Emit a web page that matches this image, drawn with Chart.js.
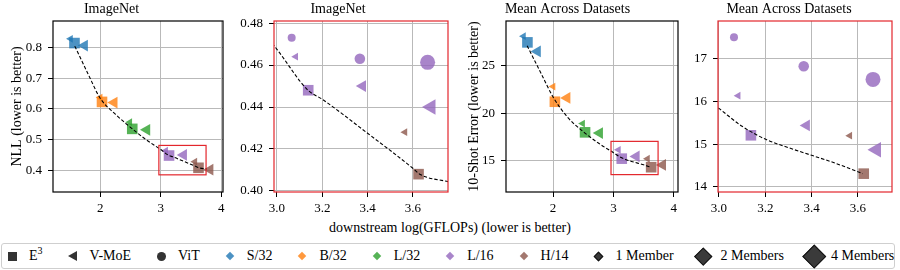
<!DOCTYPE html>
<html>
<head>
<meta charset="utf-8">
<script src="https://cdn.jsdelivr.net/npm/chart.js@4/dist/chart.umd.min.js"></script>
<style>
  body { margin: 0; background: #fff; font-family: 'Liberation Serif', 'Times New Roman', serif; }
  #wrap { position: relative; width: 900px; height: 270px; overflow: hidden; }
  #wrap canvas { position: absolute; top: 0; }
  #xlabel { position: absolute; left: 0; width: 900px; top: 220px; text-align: center; font-size: 14px; line-height: 16px; }
  #legend { position: absolute; left: 1px; top: 243px; width: 892px; height: 24px; border: 1px solid #cfcfcf; border-radius: 3px;
            display: flex; align-items: center; font-size: 14px; font-family: 'Liberation Serif', 'Times New Roman', serif; }
  .item { display: flex; align-items: center; margin-right: 20px; white-space: nowrap; }
  .item:last-child { margin-right: 0; }
  .handle { width: 20px; height: 22px; display: flex; align-items: center; justify-content: center; margin-right: 7px; }
  .sq { width: 9px; height: 9px; background: #333; }
  .tri { width: 0; height: 0; border-top: 5px solid transparent; border-bottom: 5px solid transparent; border-right: 9px solid #333; }
  .dot { width: 9px; height: 9px; border-radius: 50%; background: #333; }
  .dia { transform: rotate(45deg); }
  sup { font-size: 10px; line-height: 0; }
</style>
</head>
<body>
<div id="wrap">
  <div id="xlabel">downstream log(GFLOPs) (lower is better)</div>
  <div id="legend"></div>
</div>
<script>
// architectures
const archs = ['S/32', 'B/32', 'L/32', 'L/16', 'H/14'];
const archColors = ['#1f77b4', '#ff7f0e', '#2ca02c', '#9467bd', '#8c564b'];

// downstream log(GFLOPs) per architecture (null = not shown)
const e3Flops    = [1.575, 2.03, 2.53, 3.138, 3.625];
const vmoe1Flops = [1.51, 2.0, 2.49, 3.083, 3.565];
const vmoe2Flops = [1.74, 2.23, 2.77, 3.378, 3.815];
const vmoe4Flops = [null, null, null, 3.68, null];
const vit1Flops  = [null, null, null, 3.065, null];
const vit2Flops  = [null, null, null, 3.366, null];
const vit4Flops  = [null, null, null, 3.665, null];

// ImageNet NLL
const e3Nll    = [0.815, 0.623, 0.535, 0.448, 0.408];
const vmoe1Nll = [0.829, 0.637, 0.557, 0.464, 0.428];
const vmoe2Nll = [0.807, 0.621, 0.532, 0.450, 0.402];
const vmoe4Nll = [null, null, null, 0.440, null];
const vit1Nll  = [null, null, null, 0.473, null];
const vit2Nll  = [null, null, null, 0.463, null];
const vit4Nll  = [null, null, null, 0.4613, null];

// mean 10-shot error across datasets
const e3Err    = [27.45, 21.2, 17.98, 15.21, 14.31];
const vmoe1Err = [28.1, 22.8, 18.9, 16.14, 15.2];
const vmoe2Err = [26.5, 21.6, 17.9, 15.44, 14.55];
const vmoe4Err = [null, null, null, 14.87, null];
const vit1Err  = [null, null, null, 17.51, null];
const vit2Err  = [null, null, null, 16.83, null];
const vit4Err  = [null, null, null, 16.52, null];

// dashed E3 trend lines
const nllTrendX = [1.58, 1.8, 2.0, 2.25, 2.5, 2.75, 3.0, 3.137, 3.2, 3.4, 3.6, 3.63, 3.76];
const nllTrend  = [0.805, 0.714, 0.635, 0.583, 0.540, 0.501, 0.4675, 0.448, 0.4437, 0.4275, 0.4108, 0.408, 0.4043];
const errTrendX = [1.57, 1.8, 2.0, 2.25, 2.5, 2.75, 3.0, 3.1, 3.2, 3.3, 3.4, 3.5, 3.62];
const errTrend  = [27.1, 24.2, 21.7, 19.5, 18.05, 16.85, 15.84, 15.42, 15.12, 14.92, 14.74, 14.56, 14.31];

// zoom regions marked in the full panels [xmin, xmax, ymin, ymax]
const nllInset = [2.97, 3.75, 0.385, 0.481];
const errInset = [2.96, 3.74, 13.53, 17.03];

// tick labels
const fullXTicks = [2, 3, 4];
const zoomXTicks = [3.0, 3.2, 3.4, 3.6];
const nllYTicks = [0.4, 0.5, 0.6, 0.7, 0.8];
const nllZoomYTicks = [0.40, 0.42, 0.44, 0.46, 0.48];
const errYTicks = [15, 20, 25];
const errZoomYTicks = [14, 15, 16, 17];

Chart.defaults.font.family = "'Liberation Serif', 'Times New Roman', serif";
Chart.defaults.font.size = 13;
Chart.defaults.color = '#000';

const RED = '#e3262c';
const H = 222, PLOT_BOTTOM = 192, PAD_RIGHT = 22;

function points(xs, ys) {
  const data = [], colors = [];
  xs.forEach((x, i) => {
    if (x !== null && ys[i] !== null) {
      data.push({ x: x, y: ys[i] });
      colors.push(archColors[i] + 'cc');
    }
  });
  return { data, colors };
}

// frame around the plot + optional inset rectangle
const framePlugin = {
  id: 'frame',
  afterDraw(chart, args, opts) {
    const { ctx, chartArea: a, scales } = chart;
    ctx.save();
    if (opts.inset) {
      const [x0, x1, y0, y1] = opts.inset;
      const px0 = scales.x.getPixelForValue(x0), px1 = scales.x.getPixelForValue(x1);
      const py0 = scales.y.getPixelForValue(y1), py1 = scales.y.getPixelForValue(y0);
      ctx.strokeStyle = RED;
      ctx.lineWidth = 1.2;
      ctx.strokeRect(px0, py0, px1 - px0, py1 - py0);
    }
    ctx.strokeStyle = opts.color;
    ctx.lineWidth = opts.width;
    ctx.strokeRect(a.left, a.top, a.right - a.left, a.bottom - a.top);
    ctx.restore();
  }
};

const families = [
  { key: 'e3',    style: 'rect',     radius: 7.5, rot: 0 },
  { key: 'vmoe1', style: 'triangle', radius: 4.5, rot: -90 },
  { key: 'vmoe2', style: 'triangle', radius: 6.8, rot: -90 },
  { key: 'vmoe4', style: 'triangle', radius: 9,   rot: -90 },
  { key: 'vit1',  style: 'circle',   radius: 4,   rot: 0 },
  { key: 'vit2',  style: 'circle',   radius: 5.3, rot: 0 },
  { key: 'vit4',  style: 'circle',   radius: 7.5, rot: 0 }
];
const flops = { e3: e3Flops, vmoe1: vmoe1Flops, vmoe2: vmoe2Flops, vmoe4: vmoe4Flops, vit1: vit1Flops, vit2: vit2Flops, vit4: vit4Flops };
const nll = { e3: e3Nll, vmoe1: vmoe1Nll, vmoe2: vmoe2Nll, vmoe4: vmoe4Nll, vit1: vit1Nll, vit2: vit2Nll, vit4: vit4Nll };
const err = { e3: e3Err, vmoe1: vmoe1Err, vmoe2: vmoe2Err, vmoe4: vmoe4Err, vit1: vit1Err, vit2: vit2Err, vit4: vit4Err };

const panels = [
  { title: 'ImageNet', cx: 0, ax0: 53, ax1: 223, x: [1.22, 4.03], y: [0.329, 0.887],
    xTicks: fullXTicks, yTicks: nllYTicks, xDec: 0, yDec: 1, vals: nll, trend: [nllTrendX, nllTrend],
    shown: ['e3', 'vmoe1', 'vmoe2'], frame: '#000', inset: nllInset, ylabel: 'NLL (lower is better)' },
  { title: 'ImageNet', cx: 228, ax0: 274, ax1: 448, x: [2.987, 3.755], y: [0.3995, 0.481],
    xTicks: zoomXTicks, yTicks: nllZoomYTicks, xDec: 1, yDec: 2, vals: nll, trend: [nllTrendX, nllTrend],
    shown: families.map(f => f.key), frame: RED, inset: null, ylabel: '' },
  { title: 'Mean Across Datasets', cx: 457, ax0: 506, ax1: 678, x: [1.22, 4.07], y: [11.7, 29.7],
    xTicks: fullXTicks, yTicks: errYTicks, xDec: 0, yDec: 0, vals: err, trend: [errTrendX, errTrend],
    shown: ['e3', 'vmoe1', 'vmoe2'], frame: '#000', inset: errInset, ylabel: '10-Shot Error (lower is better)' },
  { title: 'Mean Across Datasets', cx: 686, ax0: 718, ax1: 892, x: [2.996, 3.747], y: [13.88, 17.89],
    xTicks: zoomXTicks, yTicks: errZoomYTicks, xDec: 1, yDec: 0, vals: err, trend: [errTrendX, errTrend],
    shown: families.map(f => f.key), frame: RED, inset: null, ylabel: '' }
];

const wrap = document.getElementById('wrap');
const gridOpts = { color: '#b9b9b9', lineWidth: 1, tickColor: '#000', tickLength: 5 };

panels.forEach(p => {
  const cw = p.ax1 - p.cx + PAD_RIGHT;
  const canvas = document.createElement('canvas');
  canvas.width = cw;
  canvas.height = H;
  canvas.style.left = p.cx + 'px';
  canvas.style.width = cw + 'px';
  canvas.style.height = H + 'px';
  wrap.appendChild(canvas);

  const trend = p.trend[0].map((x, i) => ({ x: x, y: p.trend[1][i] }));
  const datasets = [{
    data: trend, showLine: true, borderColor: '#000', borderWidth: 1.1,
    borderDash: [3.5, 2], pointRadius: 0, tension: 0.3, cubicInterpolationMode: 'monotone'
  }];
  families.filter(f => p.shown.includes(f.key)).forEach(f => {
    const pts = points(flops[f.key], p.vals[f.key]);
    datasets.push({
      data: pts.data,
      pointStyle: f.style,
      pointRotation: f.rot,
      pointRadius: f.radius,
      pointBackgroundColor: pts.colors,
      pointBorderWidth: 0,
      showLine: false
    });
  });

  new Chart(canvas, {
    type: 'scatter',
    data: { datasets },
    options: {
      responsive: false,
      animation: false,
      events: [],
      devicePixelRatio: 1,
      layout: { padding: { left: 0, top: 0, bottom: 0, right: PAD_RIGHT } },
      plugins: {
        legend: { display: false },
        tooltip: { enabled: false },
        title: { display: true, text: p.title, color: '#000',
                 font: { size: 14, weight: 'normal', lineHeight: '15px' }, padding: { top: 2, bottom: 4 } },
        frame: { color: p.frame, width: 1.2, inset: p.inset }
      },
      scales: {
        x: {
          type: 'linear', min: p.x[0], max: p.x[1], bounds: 'data',
          afterBuildTicks: s => { s.ticks = p.xTicks.map(v => ({ value: v })); },
          afterFit: s => { s.height = H - PLOT_BOTTOM; },
          grid: gridOpts,
          border: { display: false },
          ticks: { padding: 4, maxRotation: 0, autoSkip: false, callback: v => v.toFixed(p.xDec) }
        },
        y: {
          type: 'linear', min: p.y[0], max: p.y[1], bounds: 'data',
          afterBuildTicks: s => { s.ticks = p.yTicks.map(v => ({ value: v })); },
          afterFit: s => { s.width = p.ax0 - p.cx; },
          grid: gridOpts,
          border: { display: false },
          ticks: { padding: 6, autoSkip: false, callback: v => v.toFixed(p.yDec) },
          title: { display: !!p.ylabel, text: p.ylabel, color: '#000', font: { size: 14 }, padding: { top: 9, bottom: 0 } }
        }
      }
    },
    plugins: [framePlugin]
  });
});

// shared legend
const legend = document.getElementById('legend');
const legendItems = [
  { html: '<div class="sq"></div>', label: 'E<sup>3</sup>' },
  { html: '<div class="tri"></div>', label: 'V-MoE' },
  { html: '<div class="dot"></div>', label: 'ViT' }
];
archs.forEach((a, i) => {
  legendItems.push({ html: '<div class="dia" style="width:6px;height:6px;background:' + archColors[i] + 'cc"></div>', label: a });
});
const memberLabels = ['1 Member', '2 Members', '4 Members'];
const memberSides = [7, 12.5, 16.5];
memberLabels.forEach((m, i) => {
  const s = memberSides[i];
  legendItems.push({ html: '<div class="dia" style="width:' + s + 'px;height:' + s + 'px;background:#3a3a3a;border:1px solid #111;box-sizing:border-box"></div>', label: m });
});
legendItems.forEach(it => {
  const el = document.createElement('div');
  el.className = 'item';
  el.innerHTML = '<span class="handle">' + it.html + '</span><span>' + it.label + '</span>';
  legend.appendChild(el);
});
</script>
</body>
</html>
